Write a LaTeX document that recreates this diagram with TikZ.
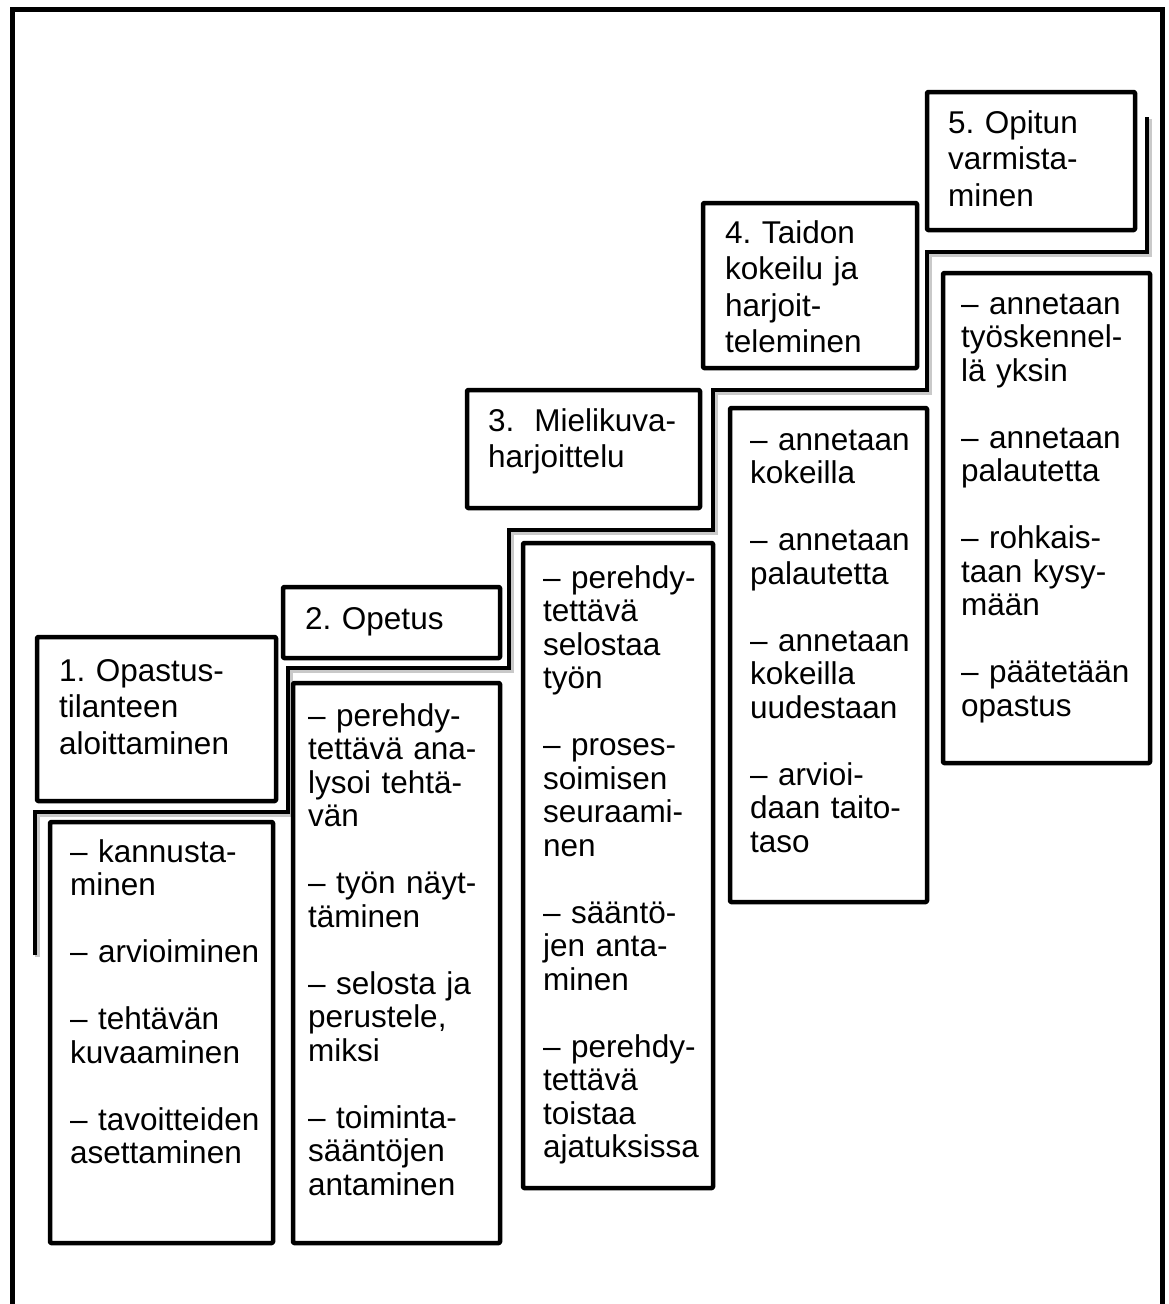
\documentclass[tikz,border=0pt]{standalone}
\usepackage{fontspec}
\setmainfont{Liberation Sans}
\frenchspacing
\begin{document}
\begin{tikzpicture}[x=1pt,y=-1pt,
  frameline/.style={line width=5pt,line cap=butt},
  stepbox/.style={draw,line width=4.5pt,line join=round,rounded corners=1pt},
  stairline/.style={line width=4.5pt,line join=miter},
  stairshadow/.style={line width=5pt,black!35,opacity=0.6},
  titletext/.style={anchor=base west,inner sep=0pt,text width=300pt,align=left,
    font=\fontsize{31.5}{36.5}\selectfont},
  itemtext/.style={anchor=base west,inner sep=0pt,text width=300pt,align=left,
    font=\fontsize{31.5}{33.5}\selectfont}]
\useasboundingbox (0,0) rectangle (1168,1304);
\fill[white] (0,0) rectangle (1168,1304);

% open frame
\draw[frameline] (12.5,1304) -- (12.5,9) -- (1162.5,9) -- (1162.5,1304);

% staircase
\coordinate (s0) at (35,955);
\coordinate (s1) at (35,812);
\coordinate (s2) at (288,812);
\coordinate (s3) at (288,668);
\coordinate (s4) at (509,668);
\coordinate (s5) at (509,530);
\coordinate (s6) at (713,530);
\coordinate (s7) at (713,390);
\coordinate (s8) at (927,390);
\coordinate (s9) at (927,252);
\coordinate (s10) at (1147,252);
\coordinate (s11) at (1147,117);
\draw[stairshadow,transform canvas={shift={(2pt,-2pt)}}]
  (s0) -- (s1) -- (s2) -- (s3) -- (s4) -- (s5) -- (s6) -- (s7) -- (s8) -- (s9) -- (s10) -- (s11);
\draw[stairline]
  (s0) -- (s1) -- (s2) -- (s3) -- (s4) -- (s5) -- (s6) -- (s7) -- (s8) -- (s9) -- (s10) -- (s11);

% title boxes
\draw[stepbox] (37,637) rectangle (276,801) node (t1box) {};
\draw[stepbox] (283,587) rectangle (500,658) node (t2box) {};
\draw[stepbox] (467,390) rectangle (700,508) node (t3box) {};
\draw[stepbox] (703,203) rectangle (917,368) node (t4box) {};
\draw[stepbox] (927,92) rectangle (1135,230) node (t5box) {};

% content boxes
\draw[stepbox] (50,822) rectangle (273,1243) node (c1box) {};
\draw[stepbox] (293,683) rectangle (500,1243) node (c2box) {};
\draw[stepbox] (523,543) rectangle (713,1188) node (c3box) {};
\draw[stepbox] (730,408) rectangle (927,902) node (c4box) {};
\draw[stepbox] (943,273) rectangle (1150,763) node (c5box) {};

% titles
\node[titletext] (t1) at (59,681) {1. Opastus-\\tilanteen\\aloittaminen};
\node[titletext] (t2) at (305,629) {2. Opetus};
\node[titletext] (t3) at (488,431) {3.\hspace{20pt}Mielikuva-\\harjoittelu};
\node[titletext] (t4) at (725,243) {4. Taidon\\kokeilu ja\\harjoit-\\teleminen};
\node[titletext] (t5) at (948,133) {5. Opitun\\varmista-\\minen};

% items
\node[itemtext] (c1) at (70,862) {– kannusta-\\minen\\[33.5pt]
  – arvioiminen\\[33.5pt]
  – tehtävän\\kuvaaminen\\[33.5pt]
  – tavoitteiden\\asettaminen};
\node[itemtext] (c2) at (308,726) {– perehdy-\\tettävä ana-\\lysoi tehtä-\\vän\\[33.5pt]
  – työn näyt-\\täminen\\[33.5pt]
  – selosta ja\\perustele,\\miksi\\[33.5pt]
  – toiminta-\\sääntöjen\\antaminen};
\node[itemtext] (c3) at (543,588) {– perehdy-\\tettävä\\selostaa\\työn\\[33.5pt]
  – proses-\\soimisen\\seuraami-\\nen\\[33.5pt]
  – sääntö-\\jen anta-\\minen\\[33.5pt]
  – perehdy-\\tettävä\\toistaa\\ajatuksissa};
\node[itemtext] (c4) at (750,450) {– annetaan\\kokeilla\\[33.5pt]
  – annetaan\\palautetta\\[33.5pt]
  – annetaan\\kokeilla\\uudestaan\\[33.5pt]
  – arvioi-\\daan taito-\\taso};
\node[itemtext] (c5) at (961,314) {– annetaan\\työskennel-\\lä yksin\\[33.5pt]
  – annetaan\\palautetta\\[33.5pt]
  – rohkais-\\taan kysy-\\mään\\[33.5pt]
  – päätetään\\opastus};
\end{tikzpicture}
\end{document}
